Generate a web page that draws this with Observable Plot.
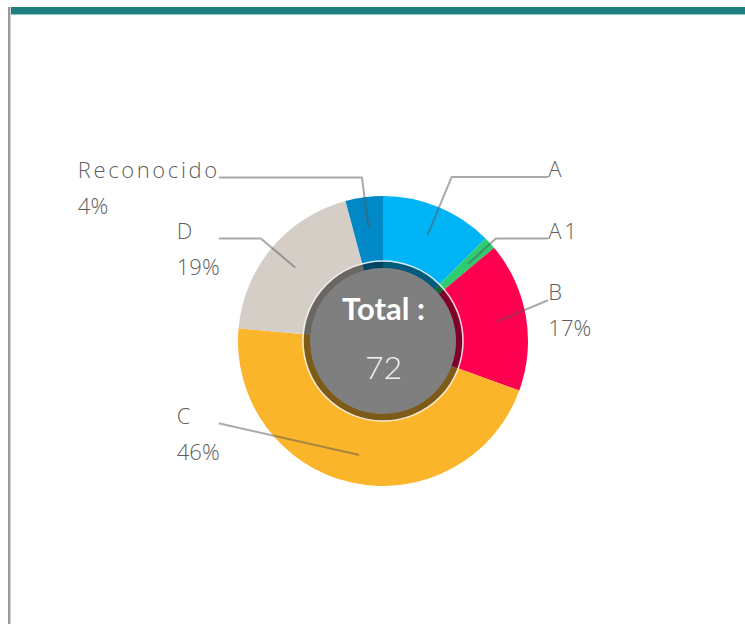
<!DOCTYPE html>
<html>
<head>
<meta charset="utf-8">
<script src="https://cdn.jsdelivr.net/npm/d3@7"></script>
<script src="https://cdn.jsdelivr.net/npm/@observablehq/plot@0.6"></script>
<style>
  html, body { margin: 0; padding: 0; background: #fff; }
  #wrap { position: relative; width: 745px; height: 624px; overflow: hidden; }
  #chart { position: absolute; left: 0; top: 0; }
  #topbar { position: absolute; left: 8px; right: 0; top: 7px; height: 7px; background: #1e7f80; border-bottom: 1px solid #8cc9c9; }
  #leftbar { position: absolute; left: 8px; top: 7px; bottom: 0; width: 2px; background: #9a9a9a; border-right: 1px solid #d4d4d4; }
</style>
</head>
<body>
<div id="wrap">
  <div id="chart"></div>
  <div id="topbar"></div>
  <div id="leftbar"></div>
</div>
<script>
// ---- data ----
const categories = ["A", "A1", "B", "C", "D", "Reconocido"];
const values = [9, 1, 12, 33, 14, 3];
const colors = ["#00b4f6", "#2ecc71", "#ff0050", "#fbb52b", "#d4cec6", "#0088c7"];
const showPercent = [false, false, true, true, true, true];
const totalLabel = "Total :";

// ---- layout (chart units: outer radius = 1) ----
const labelY = [1.135, 0.71, 0.283, -0.566, 0.71, 1.131];
const labelSide = [1, 1, 1, -1, -1, -1];
const R_IN = 73 / 145, R_LEAD = 0.8, R_HOLE = 80 / 145, LINE_X = 1.13;
const FONT = "'Open Sans', Lato, sans-serif";
const FS = 22, LS_NAME = 2.6, LS_PCT = 0, FW = 300;

const total = d3.sum(values);
const rows = categories.map((c, i) => ({ name: c, value: values[i], color: colors[i], i }));
const arcs = d3.pie().sort(null).value(d => d.value)(rows);

const ctx = document.createElement("canvas").getContext("2d");
ctx.font = `${FW} ${FS}px "Open Sans"`;
const measure = (s, ls) => ctx.measureText(s).width + ls * s.length;
const PX = 145; // px per chart unit

const linePts = [];
const labels = [];
arcs.forEach(a => {
  const d = a.data, i = d.i;
  const mid = (a.startAngle + a.endAngle) / 2;
  const sx = R_LEAD * Math.sin(mid), sy = R_LEAD * Math.cos(mid);
  const side = labelSide[i], ly = labelY[i];
  const ex = side * LINE_X;
  linePts.push({ k: i, x: sx, y: sy });
  const re = ly / Math.cos(mid);
  if (re > R_LEAD && Math.abs(re * Math.sin(mid)) < LINE_X) {
    linePts.push({ k: i, x: re * Math.sin(mid), y: ly });
  }
  linePts.push({ k: i, x: ex, y: ly });
  const pct = Math.round(d.value / total * 100) + "%";
  const pctText = showPercent[i] ? pct : "";
  let tx;
  if (side > 0) tx = ex + 1 / PX;
  else tx = ex - Math.max(measure(d.name, LS_NAME), measure(pctText, LS_PCT)) / PX;
  labels.push({ name: d.name, pct: pctText, x: tx, y: ly });
});

function donut(index, scales) {
  const cx = scales.x(0), cy = scales.y(0), R = scales.x(1) - scales.x(0);
  const g = d3.create("svg:g").attr("transform", `translate(${cx},${cy})`);
  const arc = d3.arc().innerRadius(R * R_IN).outerRadius(R);
  g.selectAll("path").data(arcs).join("path")
    .attr("d", arc).attr("fill", d => d.data.color);
  return g.node();
}
function hole(index, scales) {
  const cx = scales.x(0), cy = scales.y(0), R = scales.x(1) - scales.x(0);
  const g = d3.create("svg:g");
  g.append("circle").attr("cx", cx).attr("cy", cy).attr("r", R * R_HOLE)
    .attr("fill", "#000").attr("fill-opacity", 0.5)
    .attr("stroke", "#fff").attr("stroke-width", 1.5).attr("stroke-opacity", 0.85);
  return g.node();
}

const chart = Plot.plot({
  width: 745,
  height: 624,
  margin: 0,
  x: { domain: [-1, 1], range: [238, 528], axis: null },
  y: { domain: [-1, 1], range: [486, 196], axis: null },
  style: { background: "transparent", fontFamily: FONT },
  marks: [
    donut,
    hole,
    Plot.line(linePts, { x: "x", y: "y", z: "k", stroke: "#555", strokeOpacity: 0.5, strokeWidth: 2, curve: "linear" }),
    Plot.text(labels, { x: "x", y: "y", text: "name", textAnchor: "start", lineAnchor: "bottom", dy: 0, fontSize: FS, fontWeight: FW, fill: "#5e5e5e" }),
    Plot.text(labels, { x: "x", y: "y", text: "pct", textAnchor: "start", lineAnchor: "bottom", dy: 36, fontSize: FS, fontWeight: FW, fill: "#5e5e5e" }),
    Plot.text([totalLabel], { x: () => 0, y: () => 0.215, text: d => d, fontSize: 31, fontWeight: "bold", fill: "#fff", fontFamily: "Lato, sans-serif" }),
    Plot.text([String(total)], { x: () => 0, y: () => -0.185, text: d => d, fontSize: 32, fontWeight: 300, fill: "#f2f2f2", fontFamily: "Lato, sans-serif" })
  ]
});
const textGroups = chart.querySelectorAll('g[aria-label="text"]');
if (textGroups[0]) textGroups[0].style.letterSpacing = LS_NAME + "px";
if (textGroups[1]) textGroups[1].style.letterSpacing = LS_PCT + "px";
document.getElementById("chart").appendChild(chart);
</script>
</body>
</html>
